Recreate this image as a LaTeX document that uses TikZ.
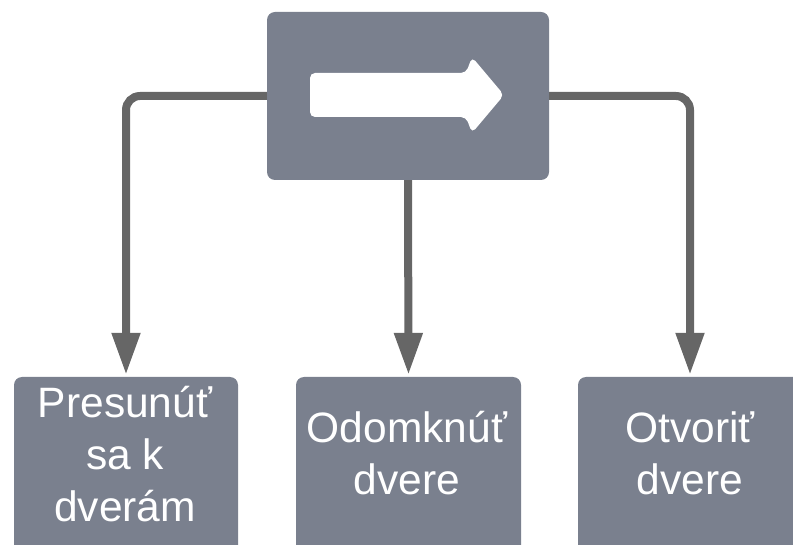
\documentclass[tikz,border=0pt]{standalone}
\usepackage{fontspec}
\setmainfont{Liberation Sans}
\usetikzlibrary{arrows.meta}
\definecolor{boxfill}{HTML}{7A808E}
\definecolor{linkgray}{HTML}{666666}
\begin{document}
\begin{tikzpicture}[x=1pt,y=-1pt,
  block/.style={fill=boxfill,draw=none,rounded corners=8pt,inner sep=0pt},
  label/.style={text=white,align=center,inner sep=0pt,
    font=\fontsize{42.5}{52}\selectfont},
  link/.style={draw=linkgray,line width=8pt,rounded corners=14pt,
    -{Triangle[length=42pt,width=27pt]},shorten >=2pt}]
\useasboundingbox (0,0) rectangle (793,545);

% start block with the white arrow symbol
\node[block,minimum width=282pt,minimum height=168pt] (top) at (408,96) {};
\fill[white,rounded corners=5pt]
  (310,73) -- (466,73) -- (472,57) -- (504,95) -- (472,133)
  -- (466,117) -- (310,117) -- cycle;

% action blocks (running past the lower edge)
\node[block,minimum width=224pt,minimum height=190pt] (b1) at (126,472) {};
\node[block,minimum width=225pt,minimum height=190pt] (b2) at (408.5,472) {};
\node[block,minimum width=224pt,minimum height=190pt] (b3) at (690,472) {};

\node[label] (t1) at (125,454) {Presunúť\\sa k\\dverám};
\node[label] (t2) at (407,453) {Odomknúť\\dvere};
\node[label] (t3) at (690,453) {Otvoriť\\dvere};

% connectors
\draw[link] (top.west) -| (b1.north);
\draw[link] (top.south) -- (b2.north);
\draw[link] (top.east) -| (b3.north);
\end{tikzpicture}
\end{document}
